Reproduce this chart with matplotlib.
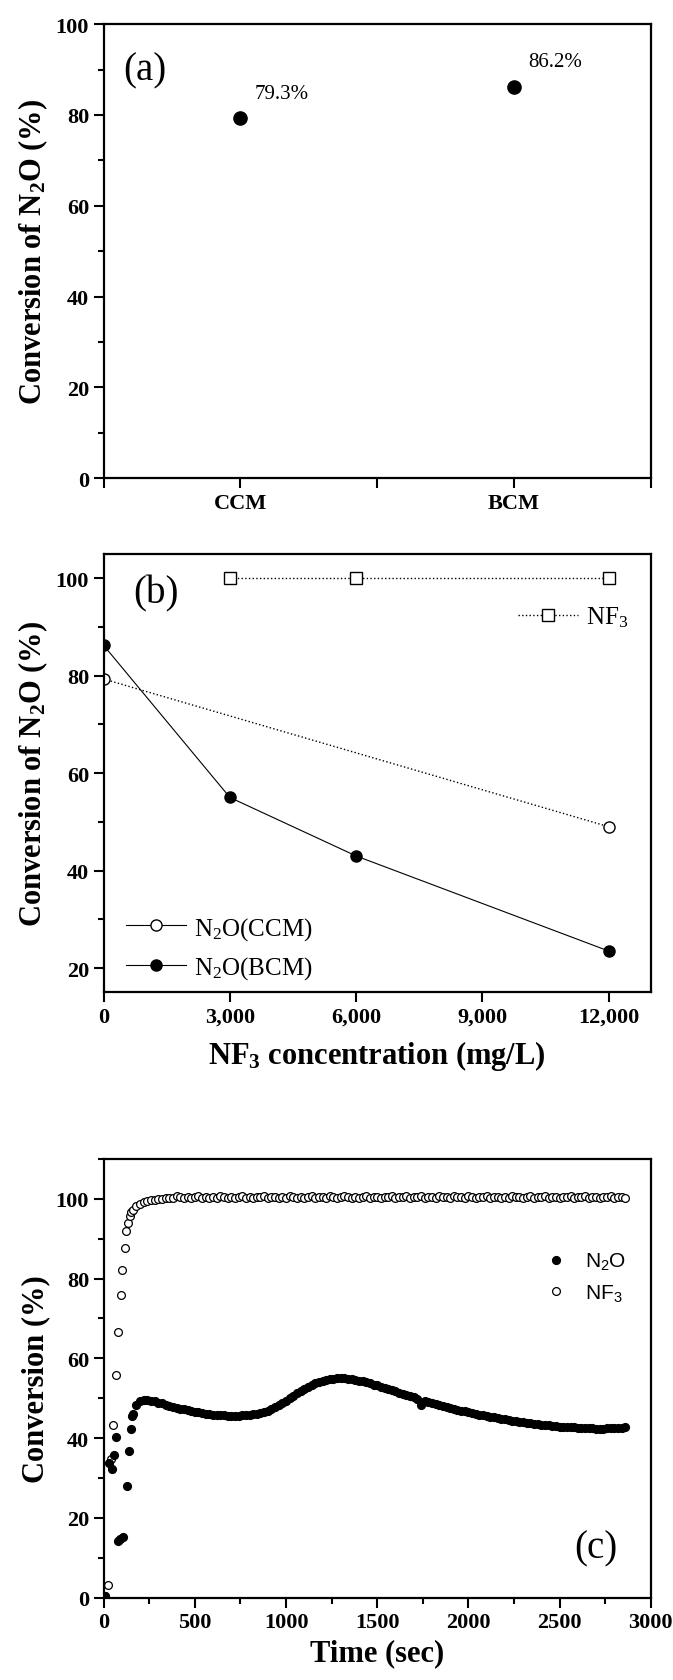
import numpy as np
import matplotlib
matplotlib.use('Agg')
import matplotlib.pyplot as plt
from matplotlib.lines import Line2D
from matplotlib.ticker import MultipleLocator

plt.rcParams['font.family'] = ['Liberation Serif', 'DejaVu Serif']
plt.rcParams['mathtext.default'] = 'regular'

# ---- panel (a) data ----
cats_a = ['CCM', 'BCM']
conv_a = [79.3, 86.2]

# ---- panel (b) data ----
nf3_conc_ccm = [0, 12000]
n2o_ccm = [79.3, 49.0]
nf3_conc_bcm = [0, 3000, 6000, 12000]
n2o_bcm = [86.2, 55.0, 43.0, 23.5]
nf3_conc_nf3 = [3000, 6000, 12000]
nf3_conv = [100.0, 100.0, 100.0]

# ---- panel (c) data ----
# start-up transient (irregular samples)
t_n2o_start = [10, 30, 48, 58, 68, 80, 92, 104, 128, 138, 148, 154]
n2o_start = [0.5, 33.8, 32.3, 35.8, 40.2, 14.2, 14.6, 15.3, 28.1, 36.8, 42.2, 45.5]
t_nf3_start = [10, 22, 43, 54, 70, 81, 94, 103, 115, 124, 135, 144, 152]
nf3_start = [0.5, 3.2, 34.8, 43.4, 55.8, 66.7, 75.9, 82.2, 87.7, 91.8, 94.0, 95.7, 96.6]

# steady run, one sample every 20 s from 160 s to 2860 s
t_step = 20
n2o_run = [
    46.0, 48.4, 49.2, 49.6, 49.6, 49.4, 49.2, 48.9, 48.7, 48.4,
    48.1, 47.9, 47.6, 47.4, 47.2, 47.0, 46.8, 46.6, 46.5, 46.3,
    46.1, 46.0, 45.9, 45.8, 45.7, 45.7, 45.6, 45.6, 45.6, 45.6,
    45.7, 45.7, 45.8, 46.0, 46.1, 46.4, 46.6, 46.9, 47.3, 47.7,
    48.2, 48.8, 49.4, 50.0, 50.6, 51.2, 51.8, 52.3, 52.8, 53.3,
    53.7, 54.0, 54.3, 54.6, 54.8, 54.9, 55.0, 55.0, 55.0, 54.9,
    54.8, 54.6, 54.4, 54.2, 54.0, 53.7, 53.4, 53.2, 52.9, 52.6,
    52.3, 52.0, 51.7, 51.4, 51.1, 50.8, 50.5, 50.2, 49.9, 48.3,
    49.4, 49.1, 48.8, 48.6, 48.3, 48.1, 47.8, 47.6, 47.3, 47.1,
    46.9, 46.7, 46.5, 46.3, 46.1, 45.9, 45.7, 45.5, 45.4, 45.2,
    45.0, 44.9, 44.7, 44.6, 44.4, 44.3, 44.1, 44.0, 43.9, 43.7,
    43.6, 43.5, 43.4, 43.3, 43.2, 43.1, 43.0, 42.9, 42.9, 42.8,
    42.7, 42.7, 42.6, 42.6, 42.5, 42.5, 42.5, 42.4, 42.4, 42.4,
    42.5, 42.5, 42.5, 42.6, 42.6, 42.7]
nf3_run = [
    97.2, 98.1, 98.8, 99.2, 99.5, 99.7, 99.8, 99.9, 100.0, 100.1,
    100.2, 100.3, 100.8, 100.5, 100.3, 100.4, 100.2, 100.5, 100.6, 100.3,
    100.4, 100.2, 100.5, 100.3, 100.6, 100.4, 100.2, 100.5, 100.3, 100.4,
    100.6, 100.3, 100.4, 100.2, 100.5, 100.4, 100.7, 100.3, 100.5, 100.4,
    100.2, 100.5, 100.3, 100.6, 100.4, 100.3, 100.5, 100.2, 100.4, 100.6,
    100.3, 100.5, 100.4, 100.2, 100.6, 100.4, 100.3, 100.5, 100.7, 100.4,
    100.3, 100.5, 100.2, 100.4, 100.6, 100.3, 100.5, 100.4, 100.2, 100.5,
    100.4, 100.6, 100.3, 100.5, 100.4, 100.8, 100.3, 100.5, 100.4, 100.6,
    100.3, 100.5, 100.4, 100.2, 100.6, 100.4, 100.5, 100.3, 100.7, 100.4,
    100.5, 100.3, 100.6, 100.4, 100.2, 100.5, 100.4, 100.6, 100.3, 100.5,
    100.4, 100.2, 100.5, 100.3, 100.6, 100.4, 100.5, 100.3, 100.4, 100.6,
    100.3, 100.5, 100.4, 100.7, 100.3, 100.5, 100.4, 100.2, 100.5, 100.4,
    100.6, 100.3, 100.5, 100.4, 100.6, 100.3, 100.5, 100.4, 100.2, 100.5,
    100.4, 100.6, 100.3, 100.5, 100.4, 100.3]
t_run = 160 + t_step * np.arange(len(n2o_run))


def style_axis(ax):
    for s in ax.spines.values():
        s.set_linewidth(1.6)
    ax.tick_params(which='major', direction='out', length=7, width=1.5,
                   labelsize=16, top=False, right=False)
    ax.tick_params(which='minor', direction='out', length=4, width=1.5,
                   top=False, right=False)
    for lab in ax.get_xticklabels() + ax.get_yticklabels():
        lab.set_fontweight('bold')


fig = plt.figure(figsize=(6.73, 16.81), dpi=100)
ax_l, ax_w = 0.154, 0.813

# ---------------- (a) ----------------
ax1 = fig.add_axes([ax_l, 0.715, ax_w, 0.270])
ax1.plot([1, 2], conv_a, 'o', color='k', markersize=9.5, linestyle='none')
ax1.set_xlim(0.5, 2.5)
ax1.set_ylim(0, 100)
ax1.set_xticks([0.5, 1, 1.5, 2, 2.5])
ax1.set_xticklabels(['', cats_a[0], '', cats_a[1], ''])
ax1.yaxis.set_major_locator(MultipleLocator(20))
ax1.yaxis.set_minor_locator(MultipleLocator(10))
ax1.set_ylabel('Conversion of N$_2$O (%)', fontsize=22, fontweight='bold')
for i, v in enumerate(conv_a):
    ax1.text(i + 1 + 0.15, v + 5.5, '%.1f%%' % v, fontsize=15, ha='center',
             va='center')
ax1.text(0.57, 90, '(a)', fontsize=28, va='center', ha='left')
style_axis(ax1)

# ---------------- (b) ----------------
ax2 = fig.add_axes([ax_l, 0.409, ax_w, 0.261])
ax2.plot(nf3_conc_ccm, n2o_ccm, linestyle=':', color='k', lw=1.0,
         marker='o', mfc='white', mec='k', markersize=8, mew=1.0)
ax2.plot(nf3_conc_bcm, n2o_bcm, linestyle='-', color='k', lw=0.8,
         marker='o', mfc='k', mec='k', markersize=8)
ax2.plot(nf3_conc_nf3, nf3_conv, linestyle=':', color='k', lw=1.0,
         marker='s', mfc='white', mec='k', markersize=8, mew=1.0)
ax2.set_xlim(0, 13000)
ax2.set_ylim(15, 105)
ax2.set_xticks([0, 3000, 6000, 9000, 12000])
ax2.set_xticklabels(['0', '3,000', '6,000', '9,000', '12,000'])
ax2.set_yticks([20, 40, 60, 80, 100])
ax2.yaxis.set_minor_locator(MultipleLocator(10))
ax2.set_xlabel('NF$_3$ concentration (mg/L)', fontsize=22, fontweight='bold',
               labelpad=8)
ax2.set_ylabel('Conversion of N$_2$O (%)', fontsize=22, fontweight='bold')
ax2.text(700, 97, '(b)', fontsize=28, va='center', ha='left')

h_nf3 = [Line2D([], [], linestyle=':', color='k', lw=1.0, marker='s',
                mfc='white', mec='k', markersize=8)]
leg_nf3 = ax2.legend(h_nf3, ['NF$_3$'], loc='upper right',
                     bbox_to_anchor=(1.0, 0.935), frameon=False, fontsize=18,
                     handlelength=2.4, handletextpad=0.3)
ax2.add_artist(leg_nf3)
h_n2o = [Line2D([], [], linestyle='-', color='k', lw=0.8, marker='o',
                mfc='white', mec='k', markersize=8),
         Line2D([], [], linestyle='-', color='k', lw=0.8, marker='o',
                mfc='k', mec='k', markersize=8)]
ax2.legend(h_n2o, ['N$_2$O(CCM)', 'N$_2$O(BCM)'], loc='lower left',
           bbox_to_anchor=(0.0, -0.025), frameon=False, fontsize=18,
           handlelength=2.4, handletextpad=0.3, labelspacing=0.5)
style_axis(ax2)

# ---------------- (c) ----------------
ax3 = fig.add_axes([ax_l, 0.049, ax_w, 0.261])
ax3.plot(t_nf3_start, nf3_start, 'o', mfc='white', mec='k', mew=0.9,
         markersize=5.6, linestyle='none')
ax3.plot(t_run, nf3_run, 'o', mfc='white', mec='k', mew=0.9,
         markersize=5.6, linestyle='none')
ax3.plot(t_n2o_start, n2o_start, 'o', color='k', markersize=5.6,
         linestyle='none')
ax3.plot(t_run, n2o_run, 'o', color='k', markersize=5.6, linestyle='none')
ax3.set_xlim(0, 3000)
ax3.set_ylim(0, 110)
ax3.xaxis.set_major_locator(MultipleLocator(500))
ax3.xaxis.set_minor_locator(MultipleLocator(250))
ax3.set_yticks([0, 20, 40, 60, 80, 100])
ax3.yaxis.set_minor_locator(MultipleLocator(10))
ax3.set_xlabel('Time (sec)', fontsize=22, fontweight='bold', labelpad=4)
ax3.set_ylabel('Conversion (%)', fontsize=22, fontweight='bold')
ax3.text(2700, 12.5, '(c)', fontsize=28, va='center', ha='center')

h_c = [Line2D([], [], linestyle='none', marker='o', color='k', markersize=5.6),
       Line2D([], [], linestyle='none', marker='o', mfc='white', mec='k',
              mew=0.9, markersize=5.6)]
ax3.legend(h_c, ['N$_2$O', 'NF$_3$'], loc='center right',
           bbox_to_anchor=(0.99, 0.73), frameon=False,
           prop={'family': 'Liberation Sans', 'size': 15},
           handlelength=1.2, handletextpad=0.8, labelspacing=0.5)
style_axis(ax3)

fig.savefig('out.png', dpi=100)
